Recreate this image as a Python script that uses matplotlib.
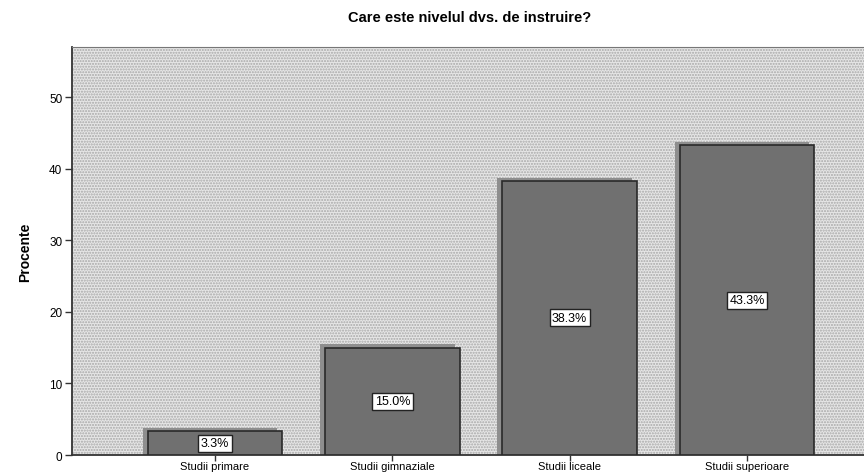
import matplotlib
matplotlib.use('Agg')
import matplotlib.pyplot as plt
from matplotlib.patches import Rectangle

plt.rcParams['font.family'] = ['Liberation Sans', 'DejaVu Sans']
plt.rcParams['hatch.linewidth'] = 1.0

categories = ['Studii primare', 'Studii gimnaziale', 'Studii liceale', 'Studii superioare']
values = [3.3, 15.0, 38.3, 43.3]
yticks = [0, 10, 20, 30, 40, 50]

fig = plt.figure(figsize=(8.64, 4.77), dpi=100)
ax = fig.add_axes([0.0833, 0.044, 0.9167, 0.855])

x = list(range(len(categories)))
width = 0.76

# fundal punctat
ax.set_facecolor('#e6e6e6')
bg = Rectangle((0, 0), 1, 1, transform=ax.transAxes, facecolor='none',
               edgecolor='#a8a8a8', hatch='......', linewidth=0, zorder=0.5)
ax.add_patch(bg)

# umbra barelor
ax.bar([i - 0.028 for i in x], [v + 0.45 for v in values], width=width,
       color='#8e8e8e', edgecolor='none', zorder=2)
ax.bar(x, values, width=width, color='#707070', edgecolor='#2a2a2a',
       linewidth=1.2, zorder=3)

for i, v in zip(x, values):
    ax.text(i, v / 2, '%.1f%%' % v, ha='center', va='center', fontsize=9,
            zorder=4, bbox=dict(boxstyle='square,pad=0.2', facecolor='white',
                                edgecolor='#222222', linewidth=1))

ax.set_xlim(-0.807, 3.66)
ax.set_ylim(0, 57)
ax.set_xticks(x)
ax.set_xticklabels(categories, fontsize=8)
ax.set_yticks(yticks)
ax.set_yticklabels([str(t) for t in yticks], fontsize=8.5)
ax.tick_params(axis='y', direction='out', length=5, width=1, color='#333333', pad=2)
ax.tick_params(axis='x', direction='out', length=4, width=1, color='#333333', pad=0.5)

ax.spines['right'].set_visible(False)
ax.spines['top'].set_color('#777777')
ax.spines['left'].set_color('#333333')
ax.spines['bottom'].set_color('#333333')
ax.spines['left'].set_linewidth(1.3)
ax.spines['bottom'].set_linewidth(1.3)

ax.set_ylabel('Procente', fontsize=10, fontweight='bold', labelpad=12)
fig.text(0.543, 0.962, 'Care este nivelul dvs. de instruire?', ha='center',
         va='center', fontsize=10.5, fontweight='bold')

fig.savefig('out.png', dpi=100)
